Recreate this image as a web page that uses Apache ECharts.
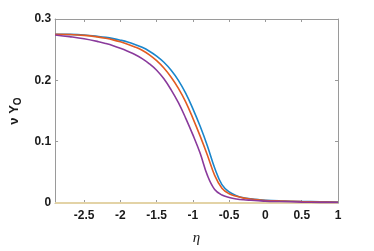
<!DOCTYPE html>
<html>
<head>
<meta charset="utf-8">
<script src="https://cdn.jsdelivr.net/npm/echarts@6/dist/echarts.min.js"></script>
<style>
  html, body { margin: 0; padding: 0; background: #fff; }
  #zf { width: 374px; height: 251px; }
</style>
</head>
<body>
<div id="zf"></div>
<script>
// tick positions on the eta axis
var etaTicks = [-2.5, -2, -1.5, -1, -0.5, 0, 0.5, 1];

// curves: [eta, nu*Y_O]
var blueLine = [[-2.9,0.2752],[-2.7,0.2749],[-2.5,0.2738],[-2.3,0.2715],[-2.2,0.27],[-2.1,0.268],[-2.0,0.2655],[-1.9,0.2625],[-1.8,0.2585],[-1.7,0.2538],[-1.6,0.2475],[-1.5,0.2395],[-1.4,0.2295],[-1.3,0.2165],[-1.2,0.2],[-1.1,0.179],[-1.0,0.1535],[-0.9,0.125],[-0.8,0.093],[-0.7,0.057],[-0.6,0.03],[-0.5,0.018],[-0.4,0.012],[-0.3,0.0085],[-0.2,0.0068],[-0.1,0.0055],[0,0.0045],[0.2,0.0035],[0.5,0.0025],[0.75,0.002],[1,0.0015]];
var orangeLine = [[-2.9,0.2752],[-2.7,0.2747],[-2.5,0.2733],[-2.3,0.2705],[-2.2,0.2685],[-2.1,0.266],[-2.0,0.2628],[-1.9,0.259],[-1.8,0.2545],[-1.7,0.249],[-1.6,0.2415],[-1.5,0.232],[-1.4,0.22],[-1.3,0.205],[-1.2,0.187],[-1.1,0.165],[-1.0,0.138],[-0.9,0.109],[-0.8,0.078],[-0.7,0.045],[-0.6,0.024],[-0.5,0.015],[-0.4,0.011],[-0.3,0.008],[-0.2,0.0065],[-0.1,0.0052],[0,0.0042],[0.2,0.0033],[0.5,0.0022],[0.75,0.0017],[1,0.0012]];
var yellowLine = [[-2.9,0],[1,0]];
var purpleLine = [[-2.9,0.274],[-2.7,0.2712],[-2.5,0.2678],[-2.3,0.263],[-2.2,0.26],[-2.1,0.2565],[-2.0,0.2523],[-1.9,0.2475],[-1.8,0.2422],[-1.7,0.2355],[-1.6,0.227],[-1.5,0.2165],[-1.4,0.2025],[-1.3,0.1845],[-1.2,0.1635],[-1.1,0.1385],[-1.0,0.111],[-0.9,0.081],[-0.8,0.045],[-0.7,0.022],[-0.6,0.013],[-0.5,0.009],[-0.4,0.0066],[-0.3,0.0052],[-0.2,0.0044],[-0.1,0.0037],[0,0.003],[0.2,0.0024],[0.5,0.0015],[0.75,0.0011],[1,0.0008]];

var myChart = echarts.init(document.getElementById('zf'));

var axisGray = '#9a9a9a';
var labelFont = { color: '#1a1a1a', fontFamily: 'Liberation Sans', fontWeight: 'bold', fontSize: 12 };

function fmt(v) { return String(Math.round(v * 10) / 10); }

function curve(data, color) {
    return { type: 'line', data: data, smooth: 0.4, symbol: 'none', lineStyle: { color: color, width: 1.6 } };
}

var option = {
    animation: false,
    grid: { left: 48, right: 36, top: 19, bottom: 44 },
    xAxis: [
        {
            type: 'value', min: -2.9, max: 1,
            name: 'η', nameLocation: 'middle', nameGap: 28,
            nameTextStyle: { fontFamily: 'Liberation Serif', fontStyle: 'italic', fontSize: 15, color: '#1a1a1a' },
            axisLine: { onZero: false, lineStyle: { color: axisGray, width: 1 } },
            axisTick: { inside: true, length: 3, customValues: etaTicks, lineStyle: { color: axisGray } },
            axisLabel: Object.assign({ customValues: etaTicks, margin: 7, formatter: fmt }, labelFont),
            splitLine: { show: false }
        },
        {
            type: 'value', min: -2.9, max: 1, position: 'top',
            axisLine: { onZero: false, lineStyle: { color: axisGray, width: 1 } },
            axisTick: { inside: true, length: 3, customValues: etaTicks, lineStyle: { color: axisGray } },
            axisLabel: { show: false },
            splitLine: { show: false }
        }
    ],
    yAxis: [
        {
            type: 'value', min: 0, max: 0.3, interval: 0.1,
            name: '{a|ν Y}{b|O}', nameLocation: 'middle', nameGap: 22, nameRotate: 90,
            nameTextStyle: {
                rich: {
                    a: { fontFamily: 'Liberation Sans', fontWeight: 'bold', fontSize: 13, color: '#1a1a1a' },
                    b: { fontFamily: 'Liberation Sans', fontWeight: 'bold', fontSize: 10, color: '#1a1a1a', padding: [8, 0, 0, 0] }
                }
            },
            axisLine: { show: true, onZero: false, lineStyle: { color: axisGray, width: 1 } },
            axisTick: { show: true, inside: true, length: 3, lineStyle: { color: axisGray } },
            axisLabel: Object.assign({ margin: 4, formatter: fmt }, labelFont),
            splitLine: { show: false }
        },
        {
            type: 'value', min: 0, max: 0.3, interval: 0.1, position: 'right',
            axisLine: { show: true, onZero: false, lineStyle: { color: axisGray, width: 1 } },
            axisTick: { show: true, inside: true, length: 3, lineStyle: { color: axisGray } },
            axisLabel: { show: false },
            splitLine: { show: false }
        }
    ],
    series: [
        curve(blueLine, '#1a86cc'),
        curve(orangeLine, '#e25c22'),
        { type: 'line', data: yellowLine, symbol: 'none', lineStyle: { color: '#e3d3a6', width: 2 } },
        curve(purpleLine, '#8a3a9c')
    ]
};

myChart.setOption(option);
</script>
</body>
</html>
